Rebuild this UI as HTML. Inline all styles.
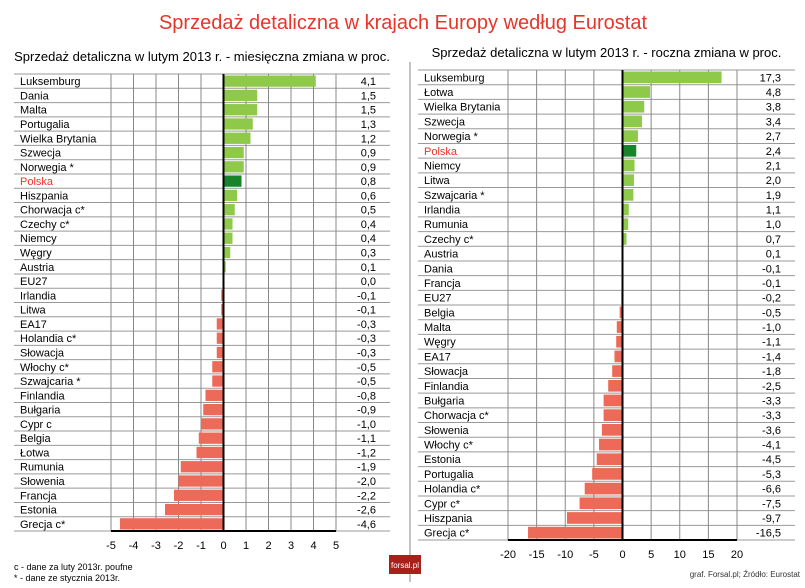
<!DOCTYPE html>
<html><head><meta charset="utf-8">
<style>
body{margin:0;background:#fff;}
svg{display:block;font-family:"Liberation Sans",sans-serif;}
</style></head>
<body>
<svg id="c" width="805" height="588">
<text x="403" y="29" text-anchor="middle" font-size="20" fill="#e8352a">Sprzedaż detaliczna w krajach Europy według Eurostat</text>
<line x1="410" y1="62" x2="410" y2="582" stroke="#888" stroke-width="1"/>
<text x="14" y="570" font-size="9" fill="#000">c - dane za luty 2013r. poufne</text>
<text x="14" y="581" font-size="9" fill="#000">* - dane ze stycznia 2013r.</text>
<rect x="389" y="555" width="32" height="19" fill="#a8201a"/>
<text x="405" y="568" text-anchor="middle" font-size="8" fill="#fff">forsal.pl</text>
<text x="800" y="577" text-anchor="end" font-size="8" fill="#333">graf. Forsal.pl; Źródło: Eurostat</text>
</svg>
<script>
const leftCats=["Luksemburg","Dania","Malta","Portugalia","Wielka Brytania","Szwecja","Norwegia *","Polska","Hiszpania","Chorwacja c*","Czechy c*","Niemcy","Węgry","Austria","EU27","Irlandia","Litwa","EA17","Holandia c*","Słowacja","Włochy c*","Szwajcaria *","Finlandia","Bułgaria","Cypr c","Belgia","Łotwa","Rumunia","Słowenia","Francja","Estonia","Grecja c*"];
const leftVals=[4.1,1.5,1.5,1.3,1.2,0.9,0.9,0.8,0.6,0.5,0.4,0.4,0.3,0.1,0.0,-0.1,-0.1,-0.3,-0.3,-0.3,-0.5,-0.5,-0.8,-0.9,-1.0,-1.1,-1.2,-1.9,-2.0,-2.2,-2.6,-4.6];
const leftTicks=[-5,-4,-3,-2,-1,0,1,2,3,4,5];
const rightCats=["Luksemburg","Łotwa","Wielka Brytania","Szwecja","Norwegia *","Polska","Niemcy","Litwa","Szwajcaria *","Irlandia","Rumunia","Czechy c*","Austria","Dania","Francja","EU27","Belgia","Malta","Węgry","EA17","Słowacja","Finlandia","Bułgaria","Chorwacja c*","Słowenia","Włochy c*","Estonia","Portugalia","Holandia c*","Cypr c*","Hiszpania","Grecja c*"];
const rightVals=[17.3,4.8,3.8,3.4,2.7,2.4,2.1,2.0,1.9,1.1,1.0,0.7,0.1,-0.1,-0.1,-0.2,-0.5,-1.0,-1.1,-1.4,-1.8,-2.5,-3.3,-3.3,-3.6,-4.1,-4.5,-5.3,-6.6,-7.5,-9.7,-16.5];
const rightTicks=[-20,-15,-10,-5,0,5,10,15,20];
const svg=document.getElementById('c');
const NS='http://www.w3.org/2000/svg';
function mk(t,a,txt){const e=document.createElementNS(NS,t);for(const k in a)e.setAttribute(k,a[k]);if(txt!==undefined)e.textContent=txt;svg.appendChild(e);return e;}
function panel(p,cats,vals,ticks){
  const min=ticks[0],max=ticks[ticks.length-1];
  const x=v=>p.px0+(v-min)/(max-min)*(p.px1-p.px0);
  const rh=(p.bottom-p.top)/cats.length;
  const st=mk('text',{x:(p.lx+p.vx1)/2,y:p.top-13,'text-anchor':'middle','font-size':13,fill:'#000'},p.sub);
  
  
  for(let i=0;i<=cats.length;i++){
    const l=mk('line',{x1:p.lx,x2:p.vx1,y1:p.top+i*rh,y2:p.top+i*rh,stroke:'#999','stroke-width':1});
    
    
  }
  ticks.forEach(t=>{
    const g=mk('line',{x1:x(t),x2:x(t),y1:p.top,y2:p.bottom,stroke:'#888','stroke-width':1});
    
    
    const tl=mk('text',{x:x(t),y:p.bottom+18,'text-anchor':'middle','font-size':11,fill:'#000'},String(t));
    
    
  });
  cats.forEach((c,i)=>{
    const v=vals[i],y=p.top+i*rh;
    const pol=c==='Polska';
    const lab=mk('text',{x:p.lx+6,y:y+rh/2+4,'font-size':11,fill:pol?'#e8352a':'#000'},c);
    
    
    const b=mk('rect',{x:Math.min(x(0),x(v)),y:y+1.5,width:Math.abs(x(v)-x(0)),height:rh-3,fill:v>=0?(pol?'#17842a':'#8fc94a'):'#ec6a57'});
    
    
    const vt=mk('text',{x:p.vx1-14,y:y+rh/2+4,'text-anchor':'end','font-size':11,fill:'#000'},v.toFixed(1).replace('.',',').replace('-0,0','0,0'));
    
    
  });
  const z=mk('line',{x1:x(0),x2:x(0),y1:p.top,y2:p.bottom,stroke:'#000','stroke-width':2});
  
  
  const ax=mk('line',{x1:p.px0,x2:p.px1,y1:p.bottom,y2:p.bottom,stroke:'#000','stroke-width':2});
  
  
}
panel({id:'monthly',sub:'Sprzedaż detaliczna w lutym 2013 r. - miesięczna zmiana w proc.',lx:14,vx1:390,px0:111,px1:336,top:74,bottom:531},leftCats,leftVals,leftTicks);
panel({id:'annual',sub:'Sprzedaż detaliczna w lutym 2013 r. - roczna zmiana w proc.',lx:418,vx1:795,px0:508,px1:737,top:70,bottom:540},rightCats,rightVals,rightTicks);
</script>
</body></html>
